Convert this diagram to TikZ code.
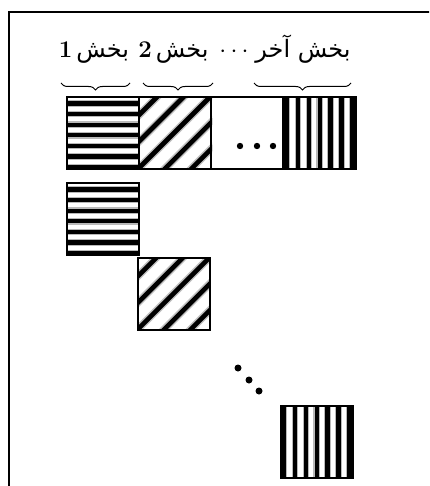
\documentclass[tikz,border=0pt]{standalone}
\usepackage{fontspec}
\newfontfamily\arabicfont[Script=Arabic]{DejaVu Sans}
\TeXXeTstate=1
\usetikzlibrary{decorations.pathreplacing}
\newcommand\HStripes{%
  \foreach \k in {0,...,6}{
    \draw[softline] (-2,6.5+10.6*\k) -- (80,6.5+10.6*\k);
    \draw[hardline] (-2,6.5+10.6*\k) -- (80,6.5+10.6*\k);}}
\newcommand\VStripes{%
  \foreach \k in {0,...,6}{
    \draw[softline] (3+10.9*\k,-2) -- (3+10.9*\k,80);
    \draw[hardline] (3+10.9*\k,-2) -- (3+10.9*\k,80);}}
\newcommand\DStripes{%
  \foreach \k in {-1,...,6}{
    \draw[softdiag] (48+26.5*\k,-30) -- (-92+26.5*\k,110);
    \draw[harddiag] (48+26.5*\k,-30) -- (-92+26.5*\k,110);}}
\newcommand\LblSize{\fontsize{24}{28}\selectfont}
\begin{document}
\begin{tikzpicture}[x=1pt,y=-1pt,
  cell/.style={draw, line width=1.2pt, minimum size=72pt, inner sep=0pt, outer sep=0pt, anchor=north west},
  softline/.style={gray!55, line width=6.5pt},
  hardline/.style={black, line width=4.3pt},
  softdiag/.style={gray!50, line width=7.5pt},
  harddiag/.style={black, line width=4.6pt},
  bracestyle/.style={decorate, decoration={brace, mirror, amplitude=7pt}, line width=1pt},
  lbl/.style={anchor=base, inner sep=0pt},
  bigdot/.style={fill=black}
]
\useasboundingbox (0,0) rectangle (429,486);
\begin{scope}
  \clip (0,0) rectangle (429,486);
  \draw[line width=2pt] (9,12) rectangle (440,500);
\end{scope}

% labels
\node[lbl] (t1) at (94,58) {\LblSize\textbf{1}\,{\arabicfont\beginR بخش\endR}};
\node[lbl] (t2) at (173.5,58) {\LblSize\textbf{2}\,{\arabicfont\beginR بخش\endR}};
\node[lbl] (tdots) at (234,58) {\LblSize$\cdots$};
\node[lbl] (t3) at (303,58) {\LblSize{\arabicfont\beginR بخش آخر\endR}};

% braces
\coordinate (b1l) at (61,83);  \coordinate (b1r) at (130,83);
\coordinate (b2l) at (143,83); \coordinate (b2r) at (213,83);
\coordinate (b3l) at (254,83); \coordinate (b3r) at (351,83);
\draw[bracestyle] (b1l) -- (b1r);
\draw[bracestyle] (b2l) -- (b2r);
\draw[bracestyle] (b3l) -- (b3r);

% top row patterns
\begin{scope}[shift={(67,97)}]\clip (0,0) rectangle (72,72); \HStripes\end{scope}
\begin{scope}[shift={(139,97)}]\clip (0,0) rectangle (73,72); \DStripes\end{scope}
\begin{scope}[shift={(284,97)}]\clip (0,0) rectangle (72,72); \VStripes\end{scope}
\node[cell] (r1) at (67,97) {};
\node[cell] (r2) at (139,97) {};
\node[cell] (r3) at (211,97) {};
\node[cell] (r4) at (284,97) {};
\fill[bigdot] (240,146) circle (3.2);
\fill[bigdot] (257,146) circle (3.2);
\fill[bigdot] (273,146) circle (3.2);

% diagonal blocks
\begin{scope}[shift={(67,183)}]\clip (0,0) rectangle (72,72); \HStripes\end{scope}
\begin{scope}[shift={(138,258)}]\clip (0,0) rectangle (72,72); \DStripes\end{scope}
\begin{scope}[shift={(281,406)}]\clip (0,0) rectangle (72,72); \VStripes\end{scope}
\node[cell] (d1) at (67,183) {};
\node[cell] (d2) at (138,258) {};
\node[cell] (d3) at (281,406) {};
\fill[bigdot] (238,368) circle (3.5);
\fill[bigdot] (249,380) circle (3.5);
\fill[bigdot] (259,391) circle (3.5);
\end{tikzpicture}
\end{document}
